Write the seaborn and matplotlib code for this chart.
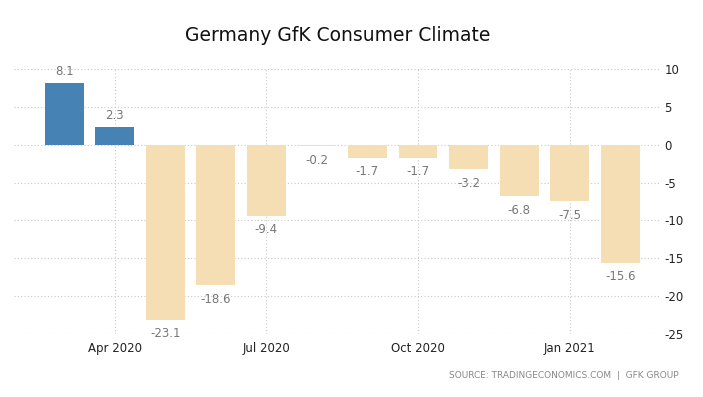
import pandas as pd
import matplotlib.pyplot as plt
import seaborn as sns

months = ["Mar 2020", "Apr 2020", "May 2020", "Jun 2020", "Jul 2020", "Aug 2020",
          "Sep 2020", "Oct 2020", "Nov 2020", "Dec 2020", "Jan 2021", "Feb 2021"]
values = [8.1, 2.3, -23.1, -18.6, -9.4, -0.2, -1.7, -1.7, -3.2, -6.8, -7.5, -15.6]
tick_labels = ["Apr 2020", "Jul 2020", "Oct 2020", "Jan 2021"]

df = pd.DataFrame({"Month": months, "Value": values})
df["Sign"] = ["pos" if v >= 0 else "neg" for v in values]

sns.set_style("white")
plt.rcParams["font.family"] = ["DejaVu Sans"]
plt.rcParams["axes.unicode_minus"] = False

fig = plt.figure(figsize=(7.03, 3.97), dpi=100)
ax = fig.add_axes([0.02, 0.159, 0.919, 0.667])

sns.barplot(data=df, x="Month", y="Value", hue="Sign", order=months,
            palette={"pos": "#4682B4", "neg": "#F5DEB3"}, width=0.77,
            dodge=False, legend=False, ax=ax, saturation=1, linewidth=0)

for i, v in enumerate(values):
    if v >= 0:
        ax.text(i, v + 0.7, f"{v:.1f}", ha="center", va="bottom", fontsize=8.5, color="#777777")
    else:
        ax.text(i, v - 1.0, f"{v:.1f}", ha="center", va="top", fontsize=8.5, color="#777777")

ax.set_xlim(-0.99, 11.79)
ax.set_ylim(-25, 10)
ax.set_yticks(range(-25, 11, 5))
ax.set_xticks([months.index(m) for m in tick_labels])
ax.set_xticklabels(tick_labels)
ax.yaxis.tick_right()
ax.tick_params(axis="both", length=0, labelsize=8.5, colors="#222222")
ax.tick_params(axis="y", pad=3)
ax.tick_params(axis="x", pad=6)
ax.grid(True, color="#c8c8c8", linestyle=(0, (1, 2)), linewidth=0.8)
ax.set_axisbelow(True)
for s in ax.spines.values():
    s.set_visible(False)
ax.set_xlabel("")
ax.set_ylabel("")

fig.text(0.48, 0.91, "Germany GfK Consumer Climate", ha="center", va="center", fontsize=13.5, color="#111111")
fig.text(0.965, 0.053, "SOURCE: TRADINGECONOMICS.COM  |  GFK GROUP", ha="right", va="center",
         fontsize=6.5, color="#888888")

plt.savefig("out.png", dpi=100)
